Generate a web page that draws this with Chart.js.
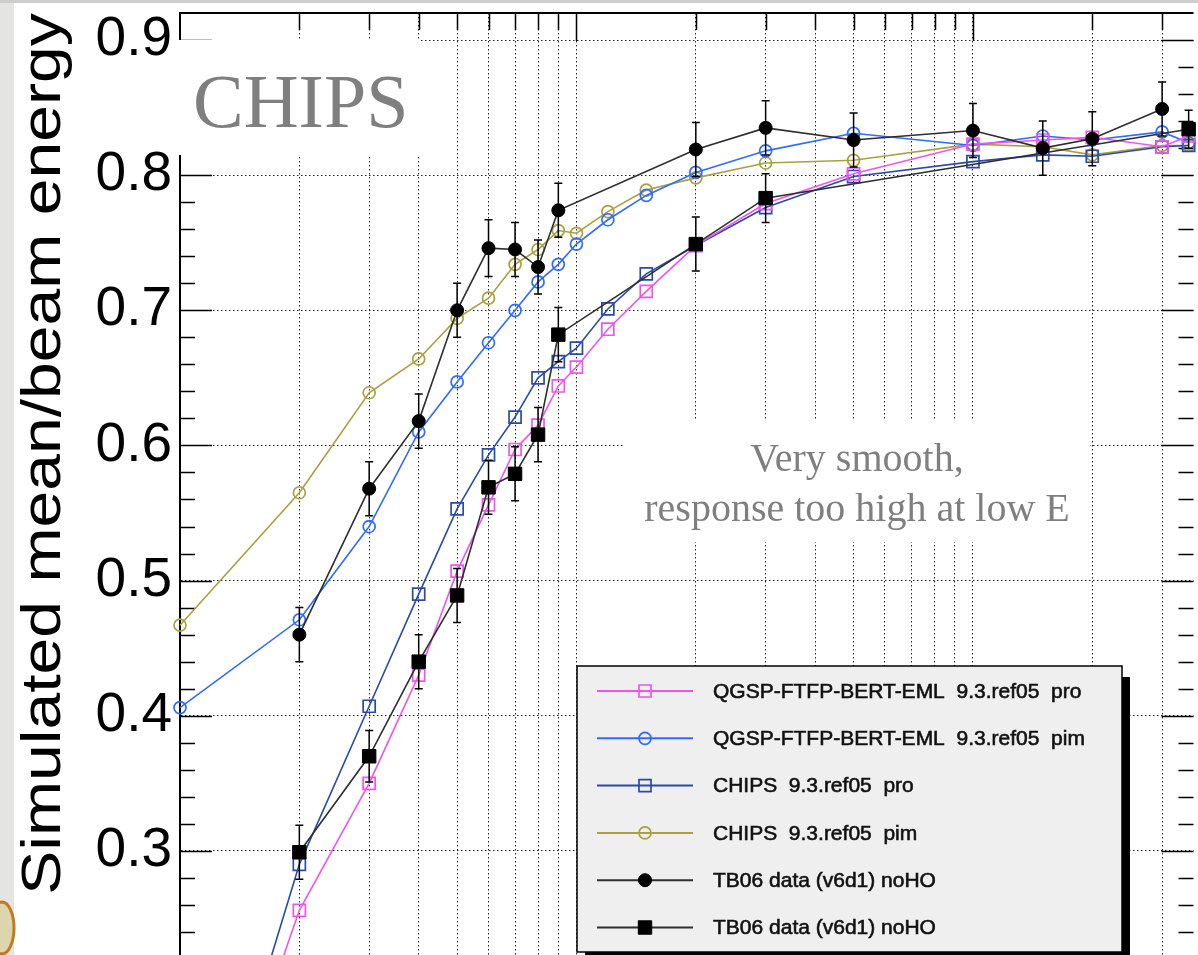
<!DOCTYPE html>
<html>
<head>
<meta charset="utf-8">
<title>CHIPS response</title>
<script src="https://cdn.jsdelivr.net/npm/chart.js@4.4.1/dist/chart.umd.min.js"></script>
<style>
    html, body { margin: 0; padding: 0; overflow: hidden; background: #e4e4e2; }
    #frame { position: relative; width: 1198px; height: 955px; overflow: hidden; }
    #chart { position: absolute; left: 0; top: 0; }
</style>
</head>
<body>
<div id="frame"><canvas id="chart" width="1204" height="1000"></canvas></div>
<script>
// beam energies (GeV) and mean/beam energy
const simEnergies = [1, 2, 3, 4, 5, 6, 7, 8, 9, 10, 12, 15, 20, 30, 50, 100, 150, 200, 300, 350];
const qgspPro  = [0.000, 0.256, 0.350, 0.430, 0.507, 0.556, 0.597, 0.615, 0.644, 0.658, 0.686, 0.714, 0.748, 0.779, 0.801, 0.823, 0.826, 0.828, 0.821, 0.829];
const qgspPim  = [0.406, 0.471, 0.540, 0.610, 0.647, 0.676, 0.700, 0.721, 0.734, 0.749, 0.767, 0.785, 0.802, 0.818, 0.831, 0.822, 0.829, 0.826, 0.832, 0.824];
const chipsPro = [0.000, 0.290, 0.407, 0.490, 0.553, 0.593, 0.621, 0.650, 0.662, 0.672, 0.701, 0.727, 0.748, 0.776, 0.799, 0.810, 0.815, 0.814, 0.821, 0.822];
const chipsPim = [0.467, 0.565, 0.639, 0.664, 0.694, 0.709, 0.734, 0.745, 0.759, 0.757, 0.773, 0.789, 0.798, 0.809, 0.811, 0.823, 0.821, 0.815, 0.822, 0.822];

const pimEnergies = [2, 3, 4, 5, 6, 7, 8, 9, 20, 30, 50, 100, 150, 200, 300];
const dataPim     = [0.460, 0.568, 0.618, 0.700, 0.746, 0.745, 0.732, 0.774, 0.819, 0.835, 0.826, 0.833, 0.820, 0.827, 0.849];
const dataPimErr  = [0.020, 0.020, 0.020, 0.020, 0.021, 0.020, 0.020, 0.020, 0.020, 0.020, 0.020, 0.020, 0.020, 0.020, 0.020];

const proEnergies = [2, 3, 4, 5, 6, 7, 8, 9, 20, 30, 350];
const dataPro     = [0.299, 0.370, 0.440, 0.489, 0.569, 0.579, 0.608, 0.682, 0.749, 0.783, 0.834];
const dataProErr  = [0.020, 0.019, 0.020, 0.020, 0.020, 0.020, 0.020, 0.020, 0.020, 0.018, 0.014];

const xGridValues = [2, 3, 4, 5, 6, 7, 8, 9, 10, 20, 30, 40, 50, 60, 70, 80, 90, 100, 200, 300];
const yTickValues = [0.3, 0.4, 0.5, 0.6, 0.7, 0.8, 0.9];

const yTitle = "Simulated mean/beam energy";
const modelLabel = "CHIPS";
const noteLines = ["Very smooth,", "response too high at low E"];

const toPoints = (xs, ys) => xs.map((x, i) => ({ x: x, y: ys[i] }));

function series(label, xs, ys, color, style, radius, filled, lineColor) {
    return {
        label: label,
        data: toPoints(xs, ys),
        borderColor: lineColor || color,
        borderWidth: 1.6,
        pointStyle: style,
        pointRadius: radius,
        pointBorderColor: color,
        pointBackgroundColor: filled ? color : "rgba(0,0,0,0)",
        pointBorderWidth: filled ? 1 : 1.7,
        tension: 0,
        clip: false,
        order: filled ? 0 : 1
    };
}

// white pad, grey slide border
const slidePaint = {
    id: "slidePaint",
    beforeDraw(chart) {
        const ctx = chart.ctx;
        ctx.save();
        ctx.fillStyle = "#ffffff";
        ctx.fillRect(0, 0, chart.width, chart.height);
        ctx.fillStyle = "#e4e4e2";
        ctx.fillRect(0, 0, 14, chart.height);
        ctx.fillStyle = "#cdcdcb";
        ctx.fillRect(0, 0, chart.width, 3);
        ctx.fillStyle = "#ddd6ac";
        ctx.strokeStyle = "#c27a22";
        ctx.lineWidth = 3;
        ctx.beginPath();
        ctx.ellipse(2, 928, 12, 26, 0, 0, Math.PI * 2);
        ctx.fill();
        ctx.stroke();
        ctx.restore();
    }
};

// ROOT style frame: top line, inward ticks on left, right and top
const frameTicks = {
    id: "frameTicks",
    beforeDatasetsDraw(chart) {
        const { ctx, chartArea, scales: { x, y } } = chart;
        ctx.save();
        ctx.strokeStyle = "#000";
        ctx.lineWidth = 2;
        ctx.beginPath();
        ctx.moveTo(chartArea.left - 1, chartArea.top);
        ctx.lineTo(chartArea.right, chartArea.top);
        ctx.stroke();

        ctx.lineWidth = 1.5;
        ctx.beginPath();
        for (let k = 11; k < 46; k++) {
            const v = k * 0.02;
            const py = Math.round(y.getPixelForValue(v)) + 0.5;
            const major = k % 5 === 0;
            const len = major ? 32 : 15;
            ctx.moveTo(chartArea.left, py);
            ctx.lineTo(chartArea.left + len, py);
            ctx.moveTo(chartArea.right, py);
            ctx.lineTo(chartArea.right - len, py);
        }
        xGridValues.forEach(v => {
            const px = Math.round(x.getPixelForValue(v)) + 0.5;
            const len = (v === 10 || v === 100) ? 28 : 17;
            ctx.moveTo(px, chartArea.top);
            ctx.lineTo(px, chartArea.top + len);
        });
        ctx.stroke();
        ctx.restore();
    }
};

const errorBars = {
    id: "errorBars",
    afterDatasetsDraw(chart) {
        const { ctx, scales: { x, y } } = chart;
        ctx.save();
        ctx.strokeStyle = "#000";
        ctx.lineWidth = 1.5;
        ctx.beginPath();
        [[pimEnergies, dataPim, dataPimErr], [proEnergies, dataPro, dataProErr]].forEach(([es, vs, errs]) => {
            es.forEach((e, i) => {
                const px = x.getPixelForValue(e);
                const lo = y.getPixelForValue(vs[i] - errs[i]);
                const hi = y.getPixelForValue(vs[i] + errs[i]);
                ctx.moveTo(px, lo);
                ctx.lineTo(px, hi);
                ctx.moveTo(px - 4, lo);
                ctx.lineTo(px + 4, lo);
                ctx.moveTo(px - 4, hi);
                ctx.lineTo(px + 4, hi);
            });
        });
        ctx.stroke();
        ctx.restore();
    }
};

const overlays = {
    id: "overlays",
    afterDraw(chart) {
        const ctx = chart.ctx;
        ctx.save();

        // model label
        ctx.fillStyle = "#ffffff";
        ctx.fillRect(177, 40, 244, 115);
        ctx.fillStyle = "#7f7f7f";
        ctx.font = "76px 'Liberation Serif', 'Times New Roman', serif";
        ctx.textAlign = "left";
        ctx.textBaseline = "alphabetic";
        ctx.fillText(modelLabel, 193, 127);

        // comment
        ctx.fillStyle = "#ffffff";
        ctx.fillRect(624, 420, 466, 122);
        ctx.fillStyle = "#7f7f7f";
        ctx.font = "40px 'Liberation Serif', 'Times New Roman', serif";
        ctx.textAlign = "center";
        ctx.fillText(noteLines[0], 857, 471);
        ctx.fillText(noteLines[1], 857, 521);

        // legend
        const x0 = 577, y0 = 666, w = 545, h = 286;
        ctx.fillStyle = "#000";
        ctx.fillRect(x0 + 8, y0 + 11, w, h);
        ctx.fillStyle = "#efefef";
        ctx.fillRect(x0, y0, w, h);
        ctx.strokeStyle = "#000";
        ctx.lineWidth = 1.5;
        ctx.strokeRect(x0, y0, w, h);
        ctx.font = "21px 'Liberation Sans', Arial, sans-serif";
        ctx.textAlign = "left";
        ctx.textBaseline = "middle";
        chart.data.datasets.forEach((ds, i) => {
            const ry = y0 + 25 + i * 47.3;
            ctx.strokeStyle = ds.borderColor;
            ctx.lineWidth = 2;
            ctx.beginPath();
            ctx.moveTo(597, ry);
            ctx.lineTo(693, ry);
            ctx.stroke();
            ctx.fillStyle = ds.pointBackgroundColor;
            ctx.strokeStyle = ds.pointBorderColor;
            ctx.lineWidth = ds.pointBorderWidth;
            Chart.helpers.drawPoint(ctx, {
                pointStyle: ds.pointStyle,
                radius: ds.pointRadius,
                borderWidth: ds.pointBorderWidth,
                rotation: 0
            }, 645, ry);
            ctx.fillStyle = "#111";
            ctx.strokeStyle = "#111";
            ctx.lineWidth = 0.6;
            ctx.fillText(ds.label, 713, ry + 1);
            ctx.strokeText(ds.label, 713, ry + 1);
        });

        // y axis title, stretched along its length like the original
        ctx.translate(60, 454);
        ctx.rotate(-Math.PI / 2);
        ctx.scale(1.18, 1);
        ctx.fillStyle = "#000";
        ctx.font = "56px 'Liberation Sans', Arial, sans-serif";
        ctx.textAlign = "center";
        ctx.textBaseline = "alphabetic";
        ctx.fillText(yTitle, 0, 0);
        ctx.restore();
    }
};

const ctx = document.getElementById("chart").getContext("2d");
new Chart(ctx, {
    type: "line",
    data: {
        datasets: [
            series("QGSP-FTFP-BERT-EML  9.3.ref05  pro", simEnergies, qgspPro, "#ee55ee", "rect", 8.5, false),
            series("QGSP-FTFP-BERT-EML  9.3.ref05  pim", simEnergies, qgspPim, "#2f6bff", "circle", 6, false),
            series("CHIPS  9.3.ref05  pro", simEnergies, chipsPro, "#2a4aa8", "rect", 8.5, false),
            series("CHIPS  9.3.ref05  pim", simEnergies, chipsPim, "#aaa040", "circle", 6, false),
            series("TB06 data (v6d1) noHO", pimEnergies, dataPim, "#000000", "circle", 6.5, true, "#2e2e2e"),
            series("TB06 data (v6d1) noHO", proEnergies, dataPro, "#000000", "rect", 9.5, true, "#2e2e2e")
        ]
    },
    options: {
        responsive: false,
        animation: false,
        devicePixelRatio: 1,
        layout: { padding: { top: 13, right: 4, bottom: 14, left: 0 } },
        plugins: {
            legend: { display: false },
            tooltip: { enabled: false }
        },
        scales: {
            x: {
                type: "logarithmic",
                min: 1,
                max: 360,
                afterBuildTicks: scale => { scale.ticks = xGridValues.map(v => ({ value: v })); },
                afterFit: scale => {
                    scale.height = 0;
                    scale.paddingLeft = 0;
                    scale.paddingRight = 0;
                },
                ticks: { display: false },
                grid: { color: "rgba(0,0,0,0.85)", lineWidth: 1, drawTicks: false },
                border: { display: false, dash: [1.5, 2.5] }
            },
            y: {
                min: 0.2,
                max: 0.92,
                afterBuildTicks: scale => { scale.ticks = yTickValues.map(v => ({ value: v })); },
                afterFit: scale => {
                    scale.width = 180;
                    scale.paddingTop = 0;
                    scale.paddingBottom = 0;
                },
                ticks: {
                    color: "#000",
                    padding: 8,
                    font: { family: "'Liberation Sans', Arial, sans-serif", size: 55 },
                    callback: v => v.toFixed(1)
                },
                grid: { color: "rgba(0,0,0,0.85)", lineWidth: 1, drawTicks: false },
                border: { display: true, color: "#000", width: 2, dash: [1.5, 2.5] }
            }
        }
    },
    plugins: [slidePaint, frameTicks, errorBars, overlays]
});
</script>
</body>
</html>
